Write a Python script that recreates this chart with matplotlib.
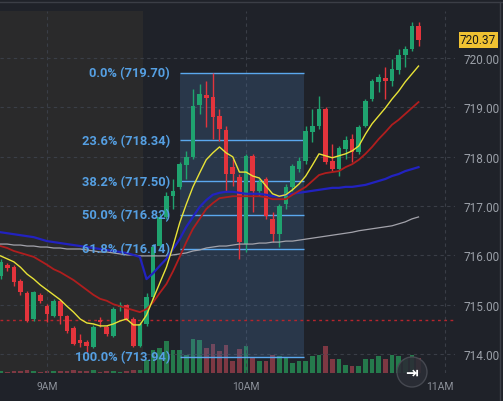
import matplotlib
matplotlib.use("Agg")
import matplotlib.pyplot as plt
import matplotlib.patches as patches
import matplotlib.transforms as mtransforms
from matplotlib.lines import Line2D
import numpy as np

# 2-minute bars, time in minutes after 9:00
minutes = np.arange(-14, 114, 2)

opens = [715.58, 715.81, 715.76, 715.48, 715.24, 714.71, 715.20, 714.97, 714.77, 715.08,
         714.77, 714.53, 714.28, 714.24, 714.14, 714.67, 714.55, 714.37, 714.95, 714.99,
         714.71, 714.16, 714.61, 715.16, 716.19, 716.78, 717.20, 717.39, 717.83, 718.00,
         719.05, 719.25, 719.21, 718.83, 718.54, 717.79, 717.59, 716.23, 718.02, 717.31,
         717.55, 716.74, 716.43, 717.04, 717.39, 717.75, 717.91, 718.50, 718.62, 718.97,
         717.91, 717.75, 718.16, 718.36, 718.10, 718.62, 719.17, 719.52, 719.60, 719.54,
         719.76, 720.06, 720.19, 720.65]
highs = [715.93, 715.85, 715.81, 715.52, 715.28, 715.28, 715.24, 715.01, 715.12, 715.12,
         714.79, 714.57, 714.41, 714.28, 714.59, 714.75, 714.59, 714.95, 715.05, 715.01,
         714.75, 714.65, 715.24, 716.23, 716.86, 717.29, 717.55, 717.89, 718.12, 719.38,
         719.48, 719.54, 719.70, 718.97, 718.62, 717.96, 717.65, 718.06, 718.06, 717.55,
         717.59, 716.88, 717.04, 717.45, 717.85, 718.00, 718.62, 718.97, 719.23, 719.01,
         718.26, 718.22, 718.42, 718.46, 718.65, 719.17, 719.58, 719.68, 719.82, 719.98,
         720.19, 720.25, 720.73, 720.73]
lows = [715.52, 715.68, 715.38, 715.20, 714.65, 714.67, 715.03, 714.65, 714.75, 714.61,
        714.43, 714.18, 714.14, 714.04, 714.12, 714.55, 714.37, 714.34, 714.87, 714.69,
        714.14, 714.14, 714.57, 715.12, 716.13, 716.74, 716.94, 717.35, 717.55, 717.96,
        718.87, 718.60, 718.36, 718.32, 717.29, 717.41, 715.93, 716.07, 716.88, 717.20,
        716.74, 716.27, 716.17, 716.94, 717.31, 717.69, 717.85, 718.30, 718.56, 717.85,
        717.71, 717.61, 717.96, 717.89, 718.06, 718.60, 719.13, 719.31, 719.17, 719.44,
        719.68, 719.82, 720.15, 720.25]
closes = [715.87, 715.74, 715.46, 715.26, 714.67, 715.26, 715.08, 714.81, 715.08, 714.77,
          714.47, 714.20, 714.22, 714.16, 714.55, 714.65, 714.41, 714.91, 714.99, 714.71,
          714.16, 714.61, 715.16, 716.17, 716.78, 717.20, 717.31, 717.85, 718.00, 719.03,
          719.27, 719.19, 718.81, 718.56, 717.65, 717.65, 716.27, 718.02, 717.31, 717.49,
          716.80, 716.43, 717.00, 717.39, 717.81, 717.91, 718.52, 718.62, 718.97, 717.89,
          717.75, 718.18, 718.34, 718.10, 718.60, 719.13, 719.54, 719.62, 719.54, 719.78,
          720.06, 720.19, 720.65, 720.37]
# volume in thousands
volume = [2, 1, 2, 2, 3, 2, 1, 2, 2, 2, 2, 3, 2, 2, 3, 1, 2, 2, 1, 2, 3, 3,
          13, 23, 25, 32, 23, 23, 18, 34, 33, 25, 29, 22, 28, 12, 24, 27, 15, 12,
          12, 18, 17, 15, 10, 12, 12, 17, 18, 27, 14, 14, 8, 7, 7, 14, 14, 17,
          14, 18, 17, 14, 18, 15]

ema_fast = [715.99, 715.93, 715.87, 715.76, 715.62, 715.52, 715.40, 715.30, 715.20, 715.10,
            714.97, 714.85, 714.71, 714.63, 714.61, 714.57, 714.57, 714.61, 714.67, 714.71,
            714.59, 714.59, 714.79, 715.12, 715.44, 715.76, 716.19, 716.66, 717.04, 717.39,
            717.67, 717.94, 718.08, 718.20, 718.08, 718.00, 717.69, 717.69, 717.61, 717.57,
            717.41, 717.25, 717.20, 717.23, 717.33, 717.45, 717.61, 717.83, 718.06, 718.02,
            717.98, 718.02, 718.06, 718.12, 718.22, 718.46, 718.67, 718.83, 718.99, 719.17,
            719.33, 719.52, 719.68, 719.84]
ema_slow = [716.19, 716.15, 716.09, 716.05, 716.01, 715.97, 715.89, 715.81, 715.72, 715.66,
            715.58, 715.50, 715.40, 715.30, 715.20, 715.12, 715.08, 715.01, 714.97, 714.93,
            714.89, 714.85, 714.91, 715.05, 715.24, 715.42, 715.68, 715.97, 716.27, 716.54,
            716.74, 716.94, 717.06, 717.16, 717.18, 717.20, 717.20, 717.20, 717.20, 717.20,
            717.18, 717.14, 717.14, 717.14, 717.23, 717.31, 717.39, 717.51, 717.63, 717.67,
            717.69, 717.71, 717.79, 717.85, 717.94, 718.06, 718.20, 718.36, 718.50, 718.65,
            718.75, 718.87, 718.99, 719.11]
vwap = [716.47, 716.45, 716.43, 716.41, 716.39, 716.37, 716.33, 716.29, 716.27, 716.25,
        716.23, 716.21, 716.19, 716.17, 716.15, 716.13, 716.11, 716.09, 716.07, 716.05,
        716.01, 715.97, 715.52, 715.64, 715.79, 715.93, 716.13, 716.33, 716.58, 716.78,
        716.98, 717.12, 717.23, 717.27, 717.29, 717.29, 717.27, 717.25, 717.25, 717.25,
        717.23, 717.20, 717.20, 717.23, 717.25, 717.27, 717.29, 717.31, 717.33, 717.35,
        717.37, 717.37, 717.39, 717.39, 717.41, 717.43, 717.47, 717.51, 717.55, 717.61,
        717.65, 717.71, 717.75, 717.79]
sma_long = [716.23, 716.23, 716.21, 716.21, 716.19, 716.19, 716.17, 716.17, 716.15, 716.15,
            716.13, 716.13, 716.13, 716.11, 716.09, 716.07, 716.07, 716.05, 716.03, 716.01,
            716.01, 715.99, 715.99, 715.99, 715.99, 715.99, 716.01, 716.03, 716.05, 716.09,
            716.11, 716.15, 716.17, 716.19, 716.19, 716.21, 716.23, 716.23, 716.23, 716.25,
            716.25, 716.27, 716.27, 716.29, 716.29, 716.31, 716.33, 716.35, 716.37, 716.39,
            716.41, 716.43, 716.45, 716.47, 716.50, 716.52, 716.54, 716.56, 716.58, 716.60,
            716.64, 716.68, 716.74, 716.78]

fib_pct = ["0.0%", "23.6%", "38.2%", "50.0%", "61.8%", "100.0%"]
fib_price = [719.70, 718.34, 717.50, 716.82, 716.14, 713.94]
fib_start, fib_end = 40.1, 77.5
prev_close = 714.69
last_price = 720.37
open_time = 29  # 9:30 bar boundary

price_ticks = [714, 715, 716, 717, 718, 719, 720]
time_ticks = [0, 60, 120]
time_labels = ["9AM", "10AM", "11AM"]

BG = "#1f2229"
PRE_BG = "#2a2a2b"
GRID = "#3a3e47"
UP = "#1fa36f"
DOWN = "#e3343c"

plt.rcParams["font.family"] = ["Roboto", "DejaVu Sans"]

fig = plt.figure(figsize=(5.03, 4.02), dpi=100, facecolor=BG)
rect = [0, 28 / 402, 455 / 503, 362 / 402]
xlim = (-14.17, 123.0)

# volume pane underneath
vax = fig.add_axes(rect)
vax.set_facecolor(BG)
vax.set_xlim(xlim)
vax.set_ylim(0, 362)
vax.set_xticks([])
vax.set_yticks([])
for s in vax.spines.values():
    s.set_visible(False)
vax.axvspan(xlim[0], open_time, color=PRE_BG, lw=0)
vol_cols = ["#257a4c" if c >= o else "#7e3843" for o, c in zip(opens, closes)]
vax.bar(minutes, volume, width=1.4, color=vol_cols, lw=0)

# price pane
ax = fig.add_axes(rect)
ax.set_facecolor("none")
ax.set_xlim(xlim)
ax.set_ylim(713.615, 720.957)
for s in ax.spines.values():
    s.set_visible(False)

for p in price_ticks:
    ax.axhline(p, color=GRID, lw=0.8, ls=(0, (3, 3)), zorder=0.5)
for t in time_ticks:
    ax.axvline(t, color=GRID, lw=0.8, ls=(0, (3, 3)), zorder=0.5)

ax.axhline(prev_close, color="#b5252d", lw=1, ls=(0, (2, 2.5)), zorder=2)

# fib retracement
ax.add_patch(patches.Rectangle((fib_start, fib_price[-1]), fib_end - fib_start,
                               fib_price[0] - fib_price[-1], fc="#4a78b0", alpha=0.25,
                               lw=0, zorder=1))
ax.hlines(fib_price, fib_start, fib_end, color="#5ba8ee", lw=1, zorder=1.5)
for pct, p in zip(fib_pct, fib_price):
    ax.text(fib_start - 3, p, f"{pct} ({p:.2f})", ha="right", va="center",
            color="#559fe2", fontsize=9.3, fontweight="bold", zorder=6)

# candles
cols = [UP if c >= o else DOWN for o, c in zip(opens, closes)]
ax.vlines(minutes, lows, highs, colors=cols, lw=1, zorder=3)
bottoms = np.minimum(opens, closes)
heights = np.maximum(np.abs(np.array(closes) - np.array(opens)), 0.03)
ax.bar(minutes, heights, bottom=bottoms, width=1.4, color=cols, lw=0, zorder=3.1)

# indicators
ax.plot(minutes, sma_long, color="#a3a3ab", lw=0.9, zorder=4)
ax.plot(minutes, vwap, color="#2222c0", lw=1.6, zorder=4)
ax.plot(minutes, ema_slow, color="#b01e1e", lw=1.3, zorder=4)
ax.plot(minutes, ema_fast, color="#e8e337", lw=1.0, zorder=4)

# axes labels
ax.yaxis.tick_right()
ax.set_yticks(price_ticks)
ax.set_yticklabels([f"{p:.2f}" for p in price_ticks])
ax.tick_params(axis="y", length=0, pad=6, labelsize=8.5, labelcolor="#9ba0a8")
ax.set_xticks([0, 60, 118.5])
ax.set_xticklabels(time_labels)
ax.tick_params(axis="x", length=0, pad=6, labelsize=7.5, labelcolor="#8c919a")

trans = mtransforms.blended_transform_factory(ax.transAxes, ax.transData)
ax.text(1.0 + 5 / 455, last_price, f"{last_price:.2f}", transform=trans, ha="left",
        va="center", fontsize=8.5, color="#1a1a1a", zorder=7,
        bbox=dict(boxstyle="square,pad=0.12", fc="#f0c232", ec="none"))

# scroll button and frame
fig.add_artist(patches.Circle((4.12, 0.29), 0.15, transform=fig.dpi_scale_trans,
                              fc="#2b2e36", ec="#494c54", lw=1, alpha=0.9, zorder=10))
fig.text(4.12 / 5.03, 0.29 / 4.02, "\u21e5", color="white", ha="center", va="center",
         fontsize=11, family="DejaVu Sans", fontweight="bold", zorder=11)
fig.add_artist(Line2D([0, 1], [1 - 3 / 402] * 2, transform=fig.transFigure,
                      color="#3b3e46", lw=1))
fig.add_artist(Line2D([500 / 503] * 2, [0, 1 - 3 / 402], transform=fig.transFigure,
                      color="#3b3e46", lw=1))

fig.savefig("out.png", dpi=100, facecolor=BG)
